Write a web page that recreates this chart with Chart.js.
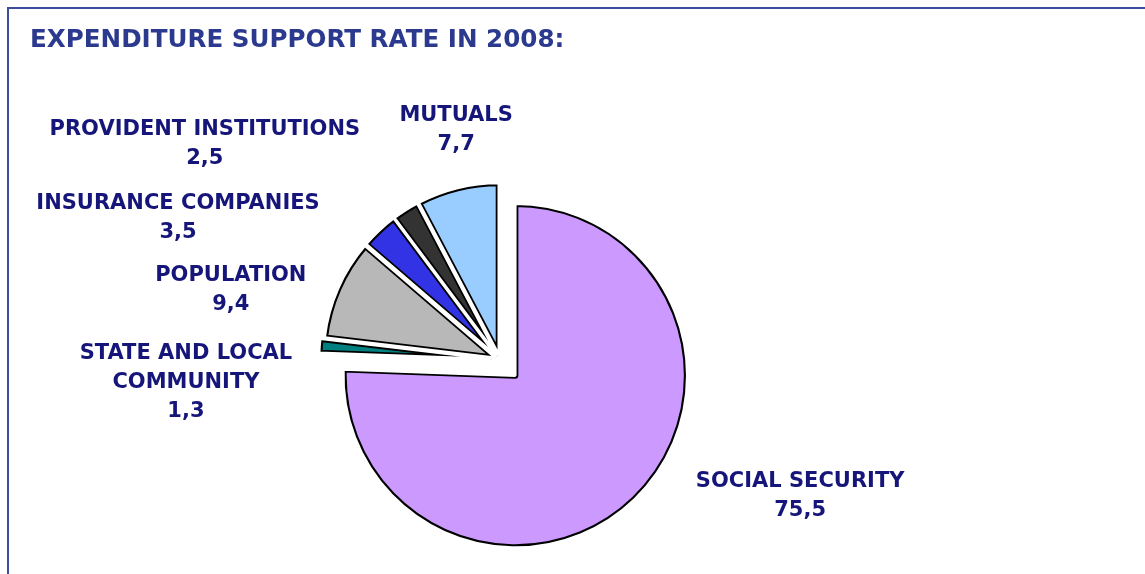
<!DOCTYPE html>
<html>
<head>
<meta charset="utf-8">
<title>Expenditure support rate 2008</title>
<script src="https://cdn.jsdelivr.net/npm/chart.js@4.4.1/dist/chart.umd.min.js"></script>
<style>
  html, body { margin: 0; padding: 0; background: #fff; overflow: hidden; }
  #frame {
    position: absolute; left: 7px; top: 7px; width: 1300px; height: 700px;
    border-top: 2px solid #3d4d9e; border-left: 2px solid #3d4d9e;
  }
  #wrap { position: absolute; left: 0; top: 0; width: 1145px; height: 574px; }
</style>
</head>
<body>
<div id="frame"></div>
<div id="wrap"><canvas id="supportChart"></canvas></div>
<script>
// financing sources, clockwise from 12 o'clock
const categories = [
  ['SOCIAL SECURITY'],
  ['STATE AND LOCAL', 'COMMUNITY'],
  ['POPULATION'],
  ['INSURANCE COMPANIES'],
  ['PROVIDENT INSTITUTIONS'],
  ['MUTUALS']
];
const shares = [75.5, 1.3, 9.4, 3.5, 2.5, 7.7];
const sliceColors = ['#cc99ff', '#008080', '#b8b8b8', '#3333e6', '#333333', '#99ccff'];
// how far each slice is pulled out of the pie, px
const explode = [22, 9, 5, 5, 5, 5];

// where each label block sits, in pie radii from the centre
const labelSpots = [
  [1.745, 0.708],
  [-1.826, -0.034],
  [-1.565, -0.487],
  [-1.872, -0.910],
  [-1.716, -1.339],
  [-0.255, -1.420]
];

// pull slices out along their middle angle
const explodeSlices = {
  id: 'explodeSlices',
  afterDatasetUpdate(chart, args) {
    args.meta.data.forEach((arc, i) => {
      const mid = (arc.startAngle + arc.endAngle) / 2;
      arc.x += Math.cos(mid) * explode[i];
      arc.y += Math.sin(mid) * explode[i];
    });
  }
};

// thin white gap between slices, inside each black outline
const innerGap = {
  id: 'innerGap',
  afterDatasetDraw(chart, args) {
    const ctx = chart.ctx;
    args.meta.data.forEach(arc => {
      const saved = arc.options;
      arc.options = Object.assign({}, saved, {
        backgroundColor: 'rgba(0,0,0,0)',
        borderColor: '#fff',
        borderWidth: 2.6,
        borderAlign: 'center'
      });
      arc.draw(ctx);
      arc.options = saved;
    });
  }
};

const labelPlugin = {
  id: 'sliceLabels',
  afterDatasetsDraw(chart) {
    const meta = chart.getDatasetMeta(0);
    const cx = chart.chartArea.left + chart.chartArea.width / 2;
    const cy = chart.chartArea.top + chart.chartArea.height / 2;
    const r = meta.controller.outerRadius;
    const ctx = chart.ctx;
    ctx.save();
    ctx.font = 'bold 21px "DejaVu Sans"';
    ctx.fillStyle = '#16167a';
    ctx.textAlign = 'center';
    ctx.textBaseline = 'middle';
    categories.forEach((lines, i) => {
      const x = cx + labelSpots[i][0] * r;
      let y = cy + labelSpots[i][1] * r;
      const txt = lines.concat([shares[i].toFixed(1).replace('.', ',')]);
      txt.forEach(t => {
        ctx.fillText(t, x, y);
        y += 29;
      });
    });
    ctx.restore();
  }
};

const ctx = document.getElementById('supportChart').getContext('2d');
const supportChart = new Chart(ctx, {
  type: 'pie',
  data: {
    labels: categories.map(l => l.join(' ')),
    datasets: [{
      data: shares,
      backgroundColor: sliceColors,
      borderColor: '#000',
      borderWidth: 3.1,
      borderAlign: 'inner'
    }]
  },
  options: {
    responsive: true,
    maintainAspectRatio: false,
    animation: false,
    events: [],
    radius: 172,
    layout: { padding: { left: 30, right: 175, top: 0, bottom: 0 } },
    plugins: {
      legend: { display: false },
      tooltip: { enabled: false },
      title: {
        display: true,
        text: 'EXPENDITURE SUPPORT RATE IN 2008:',
        align: 'start',
        color: '#2b3a8e',
        font: { family: 'DejaVu Sans', weight: 'bold', size: 24.6 },
        padding: { top: 26, bottom: 90 }
      }
    }
  },
  plugins: [explodeSlices, innerGap, labelPlugin]
});
</script>
</body>
</html>
